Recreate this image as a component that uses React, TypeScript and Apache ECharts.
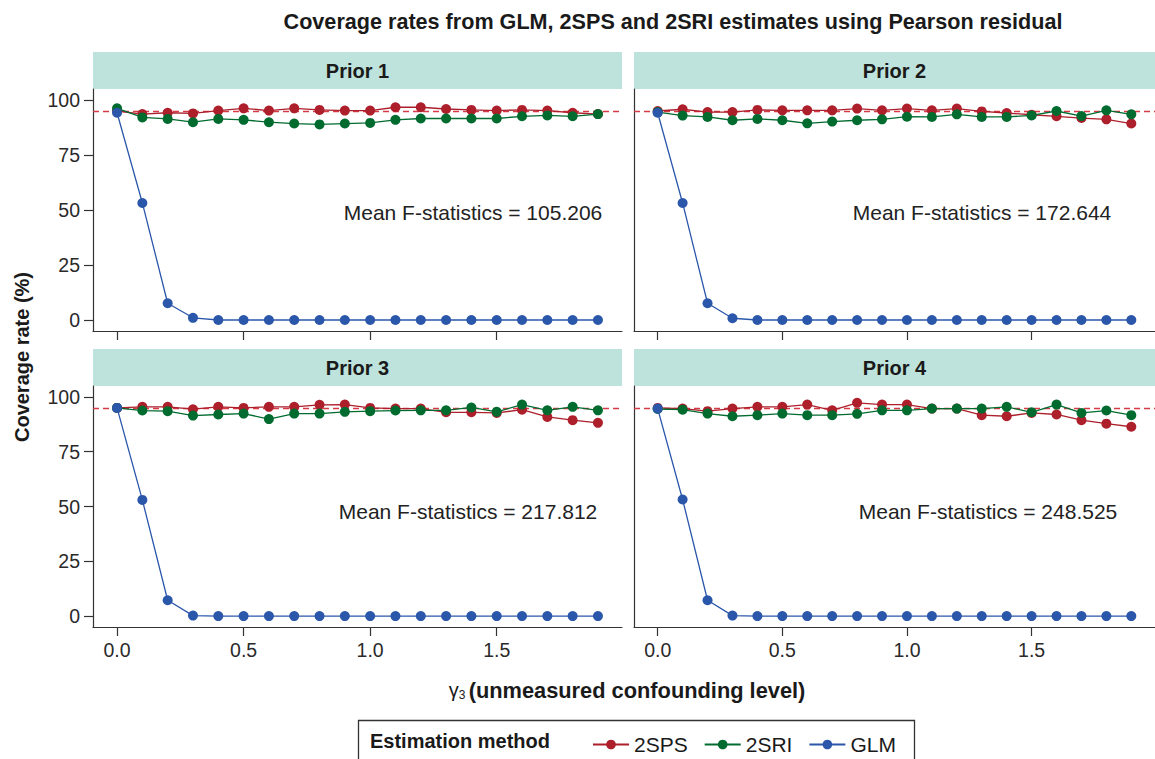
import React, { useEffect, useRef } from "react";
import * as echarts from "echarts";

const FONT = "'Liberation Sans', Arial, Helvetica, sans-serif";

const gamma = [0.0, 0.1, 0.2, 0.3, 0.4, 0.5, 0.6, 0.7, 0.8, 0.9, 1.0, 1.1, 1.2, 1.3, 1.4, 1.5, 1.6, 1.7, 1.8, 1.9];
const xTicks = [0, 0.5, 1.0, 1.5];
const yTicks = [0, 25, 50, 75, 100];
const nominal = 95;

const panelTitles = ["Prior 1", "Prior 2", "Prior 3", "Prior 4"];
const meanF = ["105.206", "172.644", "217.812", "248.525"];
const methods = ["2SPS", "2SRI", "GLM"];
const methodColors = ["#AD1F2B", "#006B2F", "#2B57AB"];

const sps1 = [95.0, 93.6, 94.2, 93.9, 95.2, 96.2, 95.2, 96.2, 95.5, 95.2, 95.2, 96.7, 96.7, 95.9, 95.5, 95.2, 95.5, 95.2, 94.2, 93.6];
const sri1 = [96.2, 92.1, 91.4, 89.9, 91.4, 91.0, 89.9, 89.3, 88.9, 89.3, 89.6, 91.0, 91.6, 91.6, 91.6, 91.6, 92.6, 93.0, 92.6, 93.6];
const glm1 = [94.2, 53.2, 7.6, 1.0, 0, 0, 0, 0, 0, 0, 0, 0, 0, 0, 0, 0, 0, 0, 0, 0];

const sps2 = [95.0, 95.8, 94.5, 94.5, 95.5, 95.3, 95.3, 95.3, 96.1, 95.3, 96.1, 95.3, 96.1, 94.8, 94.1, 93.3, 92.6, 91.8, 91.2, 89.3];
const sri2 = [94.5, 92.9, 92.3, 90.8, 91.4, 90.8, 89.4, 90.2, 90.8, 91.2, 92.4, 92.3, 93.5, 92.3, 92.3, 93.0, 95.0, 92.7, 95.3, 93.5];
const glm2 = [94.2, 53.2, 7.6, 0.8, 0, 0, 0, 0, 0, 0, 0, 0, 0, 0, 0, 0, 0, 0, 0, 0];

const sps3 = [95.0, 95.5, 95.5, 94.4, 95.5, 95.0, 95.5, 95.5, 96.4, 96.5, 95.0, 94.7, 94.7, 93.0, 93.0, 92.7, 94.2, 90.9, 89.4, 88.2];
const sri3 = [95.0, 93.8, 93.5, 91.5, 92.0, 92.4, 89.9, 92.4, 92.4, 93.2, 93.5, 93.8, 93.9, 93.9, 95.2, 93.2, 96.5, 93.9, 95.5, 93.9];
const glm3 = [95.0, 53.0, 7.2, 0.2, 0, 0, 0, 0, 0, 0, 0, 0, 0, 0, 0, 0, 0, 0, 0, 0];

const sps4 = [95.0, 94.7, 93.5, 94.7, 95.5, 95.5, 96.5, 93.9, 97.3, 96.5, 96.5, 94.7, 94.7, 91.7, 91.2, 92.7, 92.0, 89.4, 87.8, 86.4];
const sri4 = [94.5, 94.2, 92.4, 91.2, 91.7, 92.4, 91.7, 91.7, 92.3, 93.9, 93.9, 94.7, 94.7, 94.7, 95.5, 93.0, 96.5, 92.7, 93.8, 91.7];
const glm4 = [94.7, 53.2, 7.2, 0.2, 0, 0, 0, 0, 0, 0, 0, 0, 0, 0, 0, 0, 0, 0, 0, 0];

const panelData = [
  [sps1, sri1, glm1],
  [sps2, sri2, glm2],
  [sps3, sri3, glm3],
  [sps4, sri4, glm4],
];

// layout (pixels)
const panelBoxes = [
  { left: 93, top: 89, width: 529, height: 242 },
  { left: 634, top: 89, width: 529, height: 242 },
  { left: 93, top: 386, width: 529, height: 241 },
  { left: 634, top: 386, width: 529, height: 241 },
];
const stripH = 37;
const annotPos = [
  [473, 212],
  [982, 212],
  [468, 511],
  [988, 511],
];

export default function App() {
  const ref = useRef<HTMLDivElement>(null);

  useEffect(() => {
    const chart = echarts.init(ref.current!, null, { renderer: "svg" });

    const grid = panelBoxes.map((b) => ({ ...b }));

    const xAxis = panelBoxes.map((_, i) => ({
      type: "value",
      gridIndex: i,
      min: -0.095,
      max: 1.995,
      axisLine: { show: true, onZero: false, lineStyle: { color: "#333", width: 1.2 } },
      axisTick: { show: true, length: 9, customValues: xTicks, lineStyle: { color: "#333", width: 1.2 } },
      axisLabel: {
        show: i >= 2,
        customValues: xTicks,
        formatter: (v: number) => v.toFixed(1),
        fontSize: 19.5,
        fontFamily: FONT,
        color: "#2a2a2a",
        margin: 13,
      },
      splitLine: { show: false },
    }));

    const yAxis = panelBoxes.map((_, i) => ({
      type: "value",
      gridIndex: i,
      min: -5,
      max: 105,
      axisLine: { show: true, onZero: false, lineStyle: { color: "#333", width: 1.2 } },
      axisTick: { show: i % 2 === 0, length: 9, customValues: yTicks, lineStyle: { color: "#333", width: 1.2 } },
      axisLabel: {
        show: i % 2 === 0,
        customValues: yTicks,
        fontSize: 19.5,
        fontFamily: FONT,
        color: "#2a2a2a",
        margin: 13,
      },
      splitLine: { show: false },
    }));

    const series: any[] = [];
    panelData.forEach((sets, p) => {
      sets.forEach((vals, m) => {
        series.push({
          type: "line",
          name: methods[m],
          xAxisIndex: p,
          yAxisIndex: p,
          data: gamma.map((g, k) => [g, vals[k]]),
          symbol: "circle",
          symbolSize: 10,
          showSymbol: true,
          z: 3 + m,
          itemStyle: { color: methodColors[m] },
          lineStyle: { color: methodColors[m], width: 1.3 },
          emphasis: { disabled: true },
          markLine:
            m === 0
              ? {
                  silent: true,
                  symbol: "none",
                  label: { show: false },
                  lineStyle: { color: "#D63A44", type: [6, 4], width: 1.4, opacity: 1 },
                  data: [{ yAxis: nominal }],
                  z: 2,
                }
              : undefined,
        });
      });
    });

    const graphic: any[] = [];
    panelBoxes.forEach((b, i) => {
      graphic.push({
        type: "rect",
        shape: { x: b.left, y: b.top - stripH, width: b.width, height: stripH },
        style: { fill: "#BEE3DC" },
        silent: true,
      });
      graphic.push({
        type: "text",
        x: b.left + b.width / 2 - (i % 2 === 1 ? 4 : 0),
        y: b.top - stripH / 2,
        style: {
          text: panelTitles[i],
          fontSize: 20,
          fontWeight: "bold",
          fontFamily: FONT,
          fill: "#1a1a1a",
          textAlign: "center",
          textVerticalAlign: "middle",
        },
      });
      graphic.push({
        type: "text",
        x: annotPos[i][0],
        y: annotPos[i][1],
        style: {
          text: "Mean F-statistics = " + meanF[i],
          fontSize: 21,
          fontFamily: FONT,
          fill: "#222",
          textAlign: "center",
          textVerticalAlign: "middle",
        },
      });
    });

    // title
    graphic.push({
      type: "text",
      x: 673,
      y: 21,
      style: {
        text: "Coverage rates from GLM, 2SPS and 2SRI estimates using Pearson residual",
        fontSize: 21.6,
        fontWeight: "bold",
        fontFamily: FONT,
        fill: "#1a1a1a",
        textAlign: "center",
        textVerticalAlign: "middle",
      },
    });
    // y axis title
    graphic.push({
      type: "text",
      x: 22,
      y: 357,
      rotation: Math.PI / 2,
      style: {
        text: "Coverage rate (%)",
        fontSize: 20,
        fontWeight: "bold",
        fontFamily: FONT,
        fill: "#1a1a1a",
        textAlign: "center",
        textVerticalAlign: "middle",
      },
    });
    // x axis title
    graphic.push({
      type: "text",
      x: 627,
      y: 690,
      style: {
        text: "{g|γ}{s|3} {b|(unmeasured confounding level)}",
        textAlign: "center",
        textVerticalAlign: "middle",
        rich: {
          g: { fontSize: 20, fontFamily: FONT, fill: "#1a1a1a" },
          s: { fontSize: 12, fontFamily: FONT, fill: "#1a1a1a", padding: [10, 0, 0, 0] },
          b: { fontSize: 21.8, fontWeight: "bold", fontFamily: FONT, fill: "#1a1a1a" },
        },
      },
    });
    // legend box
    graphic.push({
      type: "rect",
      shape: { x: 358.5, y: 720.5, width: 556, height: 60 },
      style: { fill: "#fff", stroke: "#333", lineWidth: 1.3 },
      silent: true,
      z: -1,
    });
    graphic.push({
      type: "text",
      x: 370,
      y: 741,
      style: {
        text: "Estimation method",
        fontSize: 20,
        fontWeight: "bold",
        fontFamily: FONT,
        fill: "#1a1a1a",
        textAlign: "left",
        textVerticalAlign: "middle",
      },
    });

    chart.setOption({
      animation: false,
      backgroundColor: "#ffffff",
      grid,
      xAxis,
      yAxis,
      series,
      graphic,
      legend: {
        data: methods,
        left: 587,
        top: 729,
        itemWidth: 36,
        itemHeight: 12,
        itemGap: 16,
        textStyle: { fontSize: 21, fontFamily: FONT, color: "#1a1a1a" },
        selectedMode: false,
      },
    });

    return () => chart.dispose();
  }, []);

  return (
    <div
      ref={ref}
      style={{ position: "absolute", left: 0, top: 0, width: 1155, height: 759, overflow: "hidden", background: "#fff" }}
    />
  );
}
